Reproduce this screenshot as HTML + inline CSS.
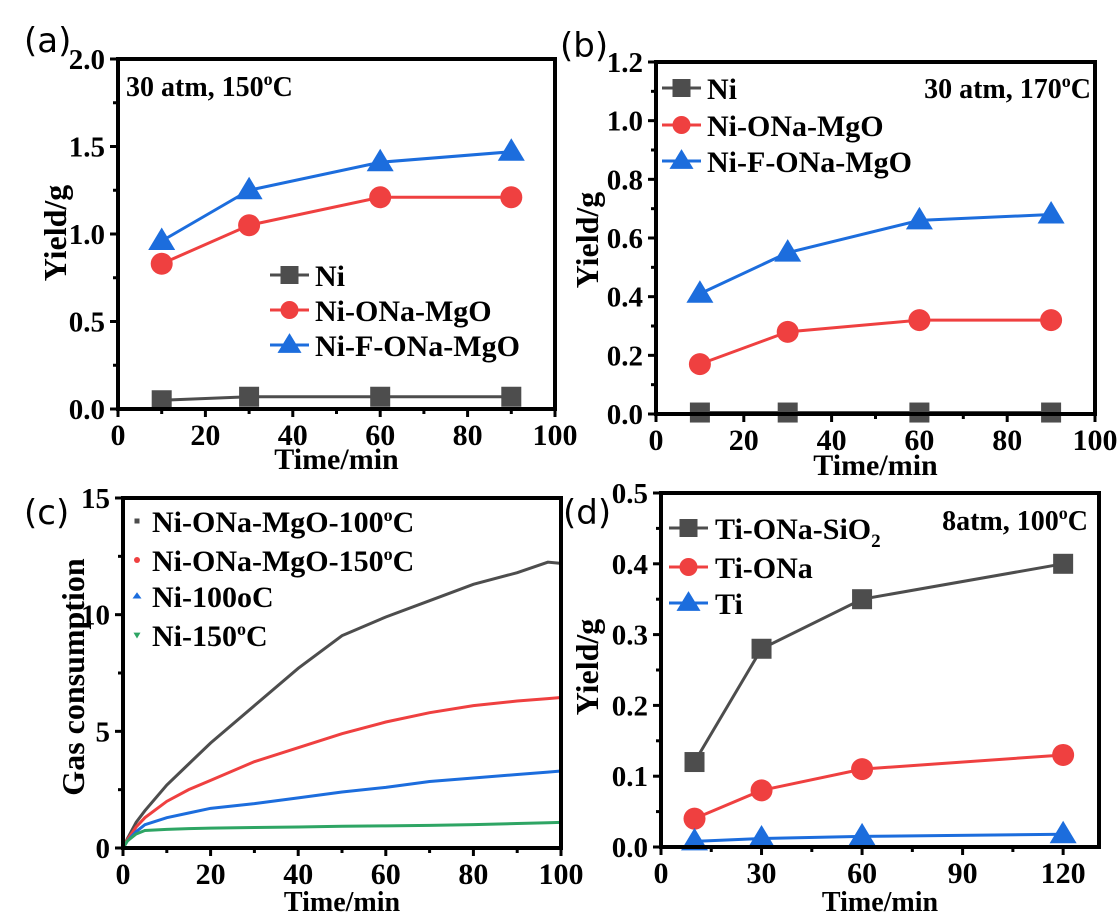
<!DOCTYPE html>
<html><head><meta charset="utf-8"><style>
body{margin:0;background:#fff}
svg{display:block}
text{font-family:"Liberation Serif",serif;font-weight:bold;fill:#000}
.lbl{font-family:"DejaVu Sans",sans-serif;font-weight:normal;font-size:34px}
</style></head><body>
<svg id="fig" width="1120" height="917" viewBox="0 0 1120 917" xmlns="http://www.w3.org/2000/svg"></svg>
<script>
// ---- data (a)
const timesA = [10, 30, 60, 90];
const aNi = [0.05, 0.07, 0.07, 0.07];
const aNiONa = [0.83, 1.05, 1.21, 1.21];
const aNiF = [0.96, 1.25, 1.41, 1.47];
const ticksA_x = [0, 20, 40, 60, 80, 100];
const ticksA_y = [0.0, 0.5, 1.0, 1.5, 2.0];
// ---- data (b)
const timesB = [10, 30, 60, 90];
const bNi = [0.005, 0.005, 0.005, 0.005];
const bNiONa = [0.17, 0.28, 0.32, 0.32];
const bNiF = [0.41, 0.55, 0.66, 0.68];
const ticksB_y = [0.0, 0.2, 0.4, 0.6, 0.8, 1.0, 1.2];
// ---- data (c)
const timesC = [0, 1, 3, 5, 10, 15, 20, 30, 40, 50, 60, 70, 80, 90, 97, 100];
const c100 = [0, 0.4, 1.1, 1.6, 2.7, 3.6, 4.5, 6.1, 7.7, 9.1, 9.9, 10.6, 11.3, 11.8, 12.25, 12.2];
const c150 = [0, 0.35, 0.9, 1.3, 2.0, 2.5, 2.9, 3.7, 4.3, 4.9, 5.4, 5.8, 6.1, 6.3, 6.4, 6.45];
const cNi100 = [0, 0.3, 0.7, 1.0, 1.3, 1.5, 1.7, 1.9, 2.15, 2.4, 2.6, 2.85, 3.0, 3.15, 3.25, 3.3];
const cNi150 = [0, 0.3, 0.6, 0.75, 0.8, 0.83, 0.85, 0.88, 0.9, 0.93, 0.95, 0.97, 1.0, 1.05, 1.08, 1.1];
const ticksC_x = [0, 20, 40, 60, 80, 100];
const ticksC_y = [0, 5, 10, 15];
// ---- data (d)
const timesD = [10, 30, 60, 120];
const dTiSi = [0.12, 0.28, 0.35, 0.40];
const dTiONa = [0.04, 0.08, 0.11, 0.13];
const dTi = [0.008, 0.012, 0.015, 0.018];
const ticksD_x = [0, 30, 60, 90, 120];
const ticksD_y = [0.0, 0.1, 0.2, 0.3, 0.4, 0.5];

const NS = "http://www.w3.org/2000/svg";
const svg = document.getElementById('fig');
function mk(tag, attrs, parent) {
  const e = document.createElementNS(NS, tag);
  for (const k in attrs) e.setAttribute(k, attrs[k]);
  (parent || svg).appendChild(e);
  return e;
}
const GRAY = '#4d4d4d', RED = '#ef4040', BLUE = '#1c6ddd', GREEN = '#2ea564';
const FS = 30;

function marker(g, shape, x, y, color, s) {
  let m;
  if (shape === 'sq') m = mk('rect', {x: x - s/2, y: y - s/2, width: s, height: s, fill: color}, g);
  else if (shape === 'ci') m = mk('circle', {cx: x, cy: y, r: s/2, fill: color}, g);
  else if (shape === 'tri') { const h = s*0.9; m = mk('polygon', {points: `${x},${y - h*0.6} ${x - s/2 - 1},${y + h*0.4} ${x + s/2 + 1},${y + h*0.4}`, fill: color}, g); }
  else if (shape === 'dtri') m = mk('polygon', {points: `${x - s/2},${y - s/3} ${x + s/2},${y - s/3} ${x},${y + s/2}`, fill: color}, g);
  return m;
}

function panel(p) {
  const g = mk('g', {});
  
  
  const sx = v => p.L + (v - p.x0) / (p.x1 - p.x0) * (p.R - p.L);
  const sy = v => p.B - (v - p.y0) / (p.y1 - p.y0) * (p.B - p.T);
  p.xt.forEach((v, i) => {
    const x = sx(v);
    mk('line', {x1: x, x2: x, y1: p.B, y2: p.B + 8, stroke: '#000', 'stroke-width': 3}, g);
    const t = mk('text', {x: x, y: p.B + 36, 'text-anchor': 'middle', 'font-size': FS}, g);
    t.textContent = v;
    
    
    if (i < p.xt.length - 1) {
      const mx = sx((v + p.xt[i + 1]) / 2);
      mk('line', {x1: mx, x2: mx, y1: p.B, y2: p.B + 5, stroke: '#000', 'stroke-width': 3}, g);
    }
  });
  p.yt.forEach((v, i) => {
    const y = sy(v);
    mk('line', {x1: p.L, x2: p.L - 8, y1: y, y2: y, stroke: '#000', 'stroke-width': 3}, g);
    const t = mk('text', {x: p.L - 13, y: y + 10, 'text-anchor': 'end', 'font-size': 29}, g);
    t.textContent = p.ylab[i];
    
    
    if (i < p.yt.length - 1) {
      const my = sy((v + p.yt[i + 1]) / 2);
      mk('line', {x1: p.L, x2: p.L - 5, y1: my, y2: my, stroke: '#000', 'stroke-width': 3}, g);
    }
  });
  p.series.forEach(s => {
    const sg = mk('g', {}, g);
    
    
    const pts = s.xs.map((x, i) => `${sx(x)},${sy(s.ys[i])}`).join(' ');
    mk('polyline', {points: pts, fill: 'none', stroke: s.color, 'stroke-width': s.lw || 3}, sg);
    if (s.shape) s.xs.forEach((x, i) => marker(sg, s.shape, sx(x), sy(s.ys[i]), s.color, s.ms));
  });
  const fr = mk('rect', {x: p.L, y: p.T, width: p.R - p.L, height: p.B - p.T, fill: 'none', stroke: '#000', 'stroke-width': 4}, g);
  
  
  const xt = mk('text', {x: (p.L + p.R) / 2, y: p.xtY, 'text-anchor': 'middle', 'font-size': p.xtFS || FS}, g);
  xt.textContent = 'Time/min';
  
  
  const yt = mk('text', {x: 0, y: 0, 'text-anchor': 'middle', 'font-size': 32, transform: `translate(${p.ytX},${p.ytY}) rotate(-90)`}, g);
  yt.textContent = p.ytitle;
  
  
  const pl = mk('text', {x: p.plX, y: p.plY, class: 'lbl'}, g);
  pl.textContent = p.label;
  
  
  p.legend.forEach(e => {
    const lg = mk('g', {}, g);
    
    
    if (e.line) mk('line', {x1: e.x1, x2: e.x2, y1: e.y, y2: e.y, stroke: e.color, 'stroke-width': 3}, lg);
    marker(lg, e.shape, (e.x1 + e.x2) / 2, e.y, e.color, e.ms);
    const t = mk('text', {x: e.tx, y: e.y + 11, 'font-size': FS}, lg);
    t.innerHTML = e.text;
  });
  if (p.ann) {
    const a = mk('text', {x: p.ann.x, y: p.ann.y, 'text-anchor': p.ann.anchor, 'font-size': 28}, g);
    a.innerHTML = p.ann.html;
    
    
  }
}
const deg = (n) => `${n}<tspan dy="-11" font-size="18">o</tspan><tspan dy="11">C</tspan>`;

panel({name: 'panel-a', L: 118, R: 555, T: 59, B: 409, x0: 0, x1: 100, y0: 0, y1: 2.0,
  xt: ticksA_x, yt: ticksA_y, ylab: ticksA_y.map(v => v.toFixed(1)), xtY: 469, ytX: 66, ytY: 233, ytitle: 'Yield/g',
  label: '(a)', plX: 24, plY: 52,
  series: [
    {id: 'series-ni', xs: timesA, ys: aNi, color: GRAY, shape: 'sq', ms: 20},
    {id: 'series-ni-ona-mgo', xs: timesA, ys: aNiONa, color: RED, shape: 'ci', ms: 22},
    {id: 'series-ni-f-ona-mgo', xs: timesA, ys: aNiF, color: BLUE, shape: 'tri', ms: 25}],
  legend: [
    {line: 1, x1: 270, x2: 309, y: 275, color: GRAY, shape: 'sq', ms: 18, tx: 315, text: 'Ni'},
    {line: 1, x1: 270, x2: 309, y: 310, color: RED, shape: 'ci', ms: 18, tx: 315, text: 'Ni-ONa-MgO'},
    {line: 1, x1: 270, x2: 309, y: 345, color: BLUE, shape: 'tri', ms: 22, tx: 315, text: 'Ni-F-ONa-MgO'}],
  ann: {x: 126, y: 96, anchor: 'start', html: '30 atm, ' + deg('150')}
});
panel({name: 'panel-b', L: 656, R: 1095, T: 62, B: 414, x0: 0, x1: 100, y0: 0, y1: 1.2,
  xt: ticksA_x, yt: ticksB_y, ylab: ticksB_y.map(v => v.toFixed(1)), xtY: 475, ytX: 598, ytY: 240, ytitle: 'Yield/g',
  label: '(b)', plX: 560, plY: 57,
  series: [
    {id: 'series-ni', xs: timesB, ys: bNi, color: GRAY, shape: 'sq', ms: 20},
    {id: 'series-ni-ona-mgo', xs: timesB, ys: bNiONa, color: RED, shape: 'ci', ms: 22},
    {id: 'series-ni-f-ona-mgo', xs: timesB, ys: bNiF, color: BLUE, shape: 'tri', ms: 25}],
  legend: [
    {line: 1, x1: 662, x2: 701, y: 88, color: GRAY, shape: 'sq', ms: 18, tx: 707, text: 'Ni'},
    {line: 1, x1: 662, x2: 701, y: 125, color: RED, shape: 'ci', ms: 18, tx: 707, text: 'Ni-ONa-MgO'},
    {line: 1, x1: 662, x2: 701, y: 161, color: BLUE, shape: 'tri', ms: 22, tx: 707, text: 'Ni-F-ONa-MgO'}],
  ann: {x: 1091, y: 98, anchor: 'end', html: '30 atm, ' + deg('170')}
});
panel({name: 'panel-c', L: 123, R: 561, T: 498, B: 848, x0: 0, x1: 100, y0: 0, y1: 15,
  xt: ticksC_x, yt: ticksC_y, ylab: ticksC_y.map(String), xtY: 911, xtFS: 28, ytX: 84, ytY: 677, ytitle: 'Gas consumption',
  label: '(c)', plX: 24, plY: 524,
  series: [
    {id: 'series-ni-ona-mgo-100c', xs: timesC, ys: c100, color: GRAY, lw: 3},
    {id: 'series-ni-ona-mgo-150c', xs: timesC, ys: c150, color: RED, lw: 3},
    {id: 'series-ni-100c', xs: timesC, ys: cNi100, color: BLUE, lw: 3},
    {id: 'series-ni-150c', xs: timesC, ys: cNi150, color: GREEN, lw: 3}],
  legend: [
    {x1: 137, x2: 137, y: 521, color: GRAY, shape: 'sq', ms: 5, tx: 152, text: 'Ni-ONa-MgO-' + deg('100')},
    {x1: 137, x2: 137, y: 560, color: RED, shape: 'ci', ms: 6, tx: 152, text: 'Ni-ONa-MgO-' + deg('150')},
    {x1: 137, x2: 137, y: 596, color: BLUE, shape: 'tri', ms: 7, tx: 152, text: 'Ni-100oC'},
    {x1: 137, x2: 137, y: 635, color: GREEN, shape: 'dtri', ms: 7, tx: 152, text: 'Ni-' + deg('150')}]
});
panel({name: 'panel-d', L: 661, R: 1099, T: 493, B: 847, x0: 0, x1: 130.7, y0: 0, y1: 0.5,
  xt: ticksD_x, yt: ticksD_y, ylab: ticksD_y.map(v => v.toFixed(1)), xtY: 911, xtFS: 28, ytX: 598, ytY: 667, ytitle: 'Yield/g',
  label: '(d)', plX: 563, plY: 524,
  series: [
    {id: 'series-ti-ona-sio2', xs: timesD, ys: dTiSi, color: GRAY, shape: 'sq', ms: 20},
    {id: 'series-ti-ona', xs: timesD, ys: dTiONa, color: RED, shape: 'ci', ms: 22},
    {id: 'series-ti', xs: timesD, ys: dTi, color: BLUE, shape: 'tri', ms: 25}],
  legend: [
    {line: 1, x1: 669, x2: 708, y: 528, color: GRAY, shape: 'sq', ms: 18, tx: 715, text: 'Ti-ONa-SiO<tspan dy="8" font-size="19">2</tspan>'},
    {line: 1, x1: 669, x2: 708, y: 567, color: RED, shape: 'ci', ms: 18, tx: 715, text: 'Ti-ONa'},
    {line: 1, x1: 669, x2: 708, y: 603, color: BLUE, shape: 'tri', ms: 22, tx: 715, text: 'Ti'}],
  ann: {x: 1088, y: 530, anchor: 'end', html: '8atm, ' + deg('100')}
});
</script>
</body></html>
